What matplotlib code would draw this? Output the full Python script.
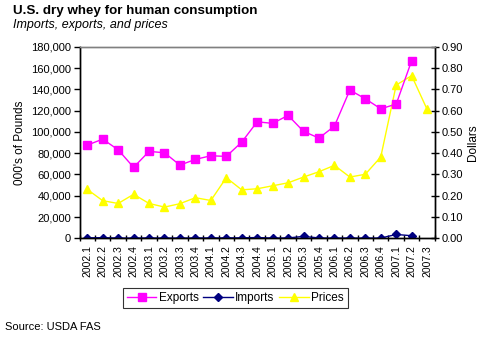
import matplotlib
matplotlib.use("Agg")
import matplotlib.pyplot as plt
import numpy as np
from matplotlib.ticker import FuncFormatter, FixedLocator

plt.rcParams['font.family'] = ['Liberation Sans', 'DejaVu Sans']

quarters = ["2002.1", "2002.2", "2002.3", "2002.4", "2003.1", "2003.2", "2003.3", "2003.4",
            "2004.1", "2004.2", "2004.3", "2004.4", "2005.1", "2005.2", "2005.3", "2005.4",
            "2006.1", "2006.2", "2006.3", "2006.4", "2007.1", "2007.2", "2007.3"]
exports = [87600, 93200, 83200, 66700, 81700, 80400, 68800, 74200,
           77600, 77000, 90400, 109500, 108000, 115500, 100500, 94200,
           105400, 139300, 131100, 121700, 126100, 166800, np.nan]
imports = [500, 700, 300, 300, 400, 300, 300, 400,
           400, 500, 500, 800, 300, 400, 1900, 400,
           300, 300, 300, 300, 3700, 2500, np.nan]
prices = [0.230, 0.177, 0.164, 0.207, 0.164, 0.147, 0.163, 0.191,
          0.178, 0.285, 0.228, 0.233, 0.247, 0.261, 0.288, 0.313,
          0.343, 0.288, 0.301, 0.382, 0.720, 0.764, 0.606]

fig = plt.figure(figsize=(4.88, 3.46), dpi=100)
ax = fig.add_axes([0.163, 0.311, 0.728, 0.554])
ax2 = ax.twinx()

x = np.arange(len(quarters))
l1, = ax.plot(x, exports, color='#FF00FF', marker='s', markersize=5.5, lw=1, label='Exports')
l2, = ax.plot(x, imports, color='#000080', marker='D', markersize=3.8, lw=1, label='Imports')
l3, = ax2.plot(x, prices, color='#FFFF00', marker='^', markersize=6, lw=1, label='Prices')
ax.set_zorder(ax2.get_zorder() + 1)
ax.patch.set_visible(False)

ax.set_xlim(-0.5, len(quarters) - 0.5)
ax.set_ylim(0, 180000)
ax2.set_ylim(0, 0.9)
ax.set_yticks(np.arange(0, 180001, 20000))
ax.yaxis.set_major_formatter(FuncFormatter(lambda v, p: f"{int(v):,}"))
ax2.set_yticks(np.arange(0, 0.91, 0.1))
ax2.yaxis.set_major_formatter(FuncFormatter(lambda v, p: f"{v:.2f}"))

ax.set_xticks(x)
ax.set_xticklabels(quarters, rotation=90, fontsize=7.5)
ax.xaxis.set_minor_locator(FixedLocator(np.arange(-0.5, len(quarters), 1.0)))
ax.tick_params(axis='x', which='major', length=0, pad=5)
ax.tick_params(axis='x', which='minor', length=5, direction='inout', width=1)
ax.tick_params(axis='y', labelsize=8, length=4, direction='out', width=1, pad=2)
ax2.tick_params(axis='y', labelsize=8, length=6, direction='inout', width=1, pad=2)

for a in (ax, ax2):
    a.spines['top'].set_color('#808080')
    a.spines['top'].set_linewidth(1)
    a.spines['left'].set_linewidth(1)
    a.spines['right'].set_linewidth(1)
    a.spines['bottom'].set_linewidth(1)

ax.set_ylabel("000's of Pounds", fontsize=8.5, labelpad=4)
ax2.set_ylabel("Dollars", fontsize=8.5, labelpad=3)

fig.text(0.027, 0.967, "U.S. dry whey for human consumption", fontsize=9.6, fontweight='bold', va='center')
fig.text(0.027, 0.927, "Imports, exports, and prices", fontsize=9, style='italic', va='center')
fig.text(0.01, 0.055, "Source: USDA FAS", fontsize=8, va='center')

leg = fig.legend(handles=[l1, l2, l3], loc='center', bbox_to_anchor=(0.482, 0.138), ncol=3,
                 fontsize=8.5, frameon=True, fancybox=False, edgecolor='black',
                 handlelength=2.5, handletextpad=0.2, columnspacing=0.4, borderpad=0.35)
leg.get_frame().set_linewidth(0.8)

fig.savefig("out.png", dpi=100)
